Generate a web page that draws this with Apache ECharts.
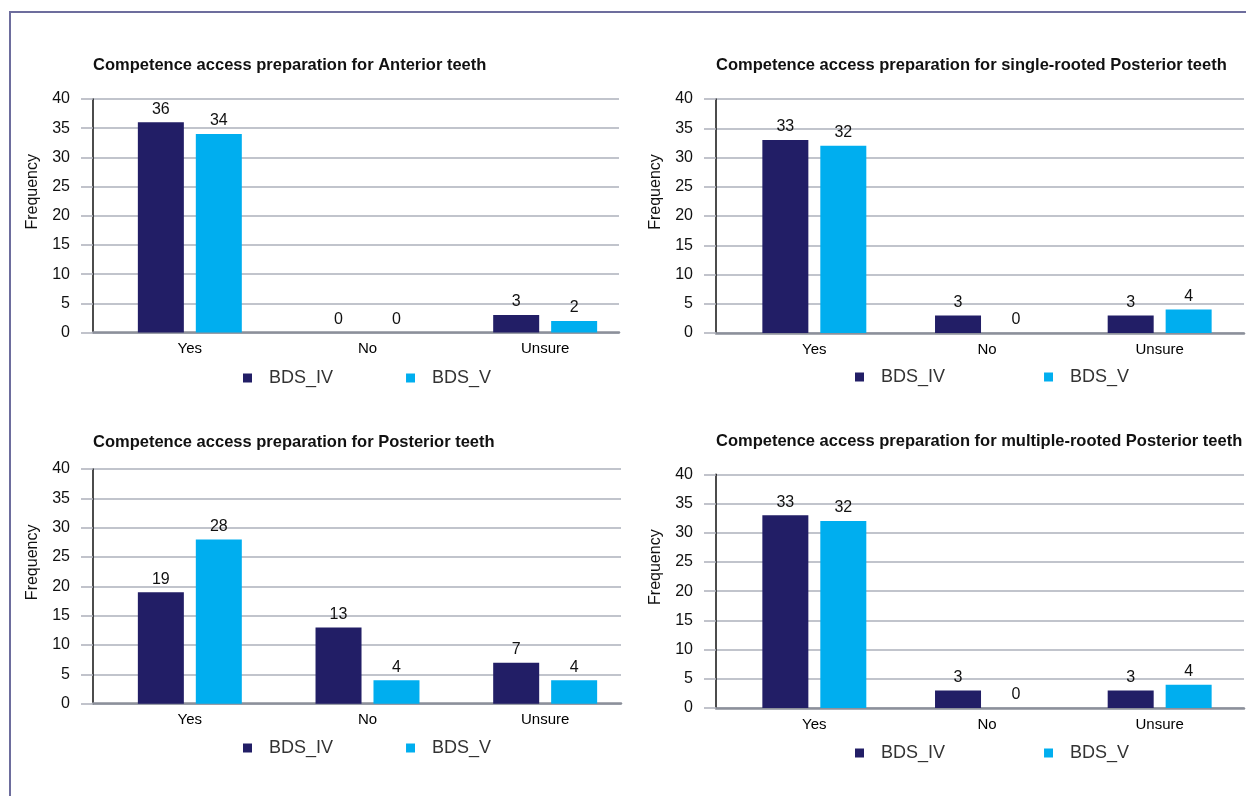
<!DOCTYPE html>
<html>
<head>
<meta charset="utf-8">
<script src="https://cdn.jsdelivr.net/npm/echarts@6/dist/echarts.min.js"></script>
<style>
    html, body { margin: 0; background: #fff; }
    #frame { position: absolute; left: 9px; top: 11px; width: 1246px; height: 796px;
             border-top: 2px solid #6d6d9d; border-left: 2px solid #6d6d9d; }
    #chart { position: absolute; left: 0; top: 0; width: 1246px; height: 796px; }
</style>
</head>
<body>
<div id="frame"></div>
<div id="chart"></div>
<script>
const categories = ['Yes', 'No', 'Unsure'];
const seriesNames = ['BDS_IV', 'BDS_V'];
const chartTitles = [
    'Competence access preparation for Anterior teeth',
    'Competence access preparation for single-rooted Posterior teeth',
    'Competence access preparation for Posterior teeth',
    'Competence access preparation for multiple-rooted Posterior teeth'
];
const anteriorBDS4 = [36, 0, 3];
const anteriorBDS5 = [34, 0, 2];
const singleRootBDS4 = [33, 3, 3];
const singleRootBDS5 = [32, 0, 4];
const posteriorBDS4 = [19, 13, 7];
const posteriorBDS5 = [28, 4, 4];
const multiRootBDS4 = [33, 3, 3];
const multiRootBDS5 = [32, 0, 4];
const yMin = 0, yMax = 40, yStep = 5;

const panelData = [
    [anteriorBDS4, anteriorBDS5],
    [singleRootBDS4, singleRootBDS5],
    [posteriorBDS4, posteriorBDS5],
    [multiRootBDS4, multiRootBDS5]
];

// where each panel sits on the page
const layout = [
    {axisX: 93, right: 619, barLeft: 101, barRight: 634, top: 99, bottom: 332.6, titleTop: 57, legendLeft: 243, legendTop: 369, legendGap: 73},
    {axisX: 716, right: 1244, barLeft: 728, barRight: 1262, top: 99, bottom: 333, titleTop: 57, legendLeft: 855, legendTop: 368, legendGap: 99},
    {axisX: 93, right: 621, barLeft: 101, barRight: 634, top: 469, bottom: 703.7, titleTop: 434, legendLeft: 243, legendTop: 739, legendGap: 73},
    {axisX: 716, right: 1244, barLeft: 728, barRight: 1262, top: 474.3, bottom: 708, titleTop: 433, legendLeft: 855, legendTop: 744, legendGap: 99}
];

const colors = ['#221e66', '#00aeef'];
const font = '"Liberation Sans", Arial, sans-serif';
const gridColor = '#adb0bb';

let option = {
    animation: false,
    backgroundColor: 'transparent',
    title: [], legend: [], grid: [], xAxis: [], yAxis: [], series: []
};

layout.forEach((p, i) => {
    let h = p.bottom - p.top;
    let g = option.grid.length;

    option.title.push({
        text: chartTitles[i], left: p.axisX, top: p.titleTop, padding: 0,
        textStyle: {fontFamily: font, fontSize: 16.5, fontWeight: 'bold', color: '#111'}
    });
    option.legend.push({
        data: seriesNames, left: p.legendLeft, top: p.legendTop, padding: 0,
        icon: 'rect', itemWidth: 9, itemHeight: 9, itemGap: p.legendGap,
        textStyle: {fontFamily: font, fontSize: 18, color: '#333', padding: [0, 0, 0, 12]}
    });

    // grid with the y axis, grid lines and baseline
    option.grid.push({left: p.axisX, top: p.top, width: p.right - p.axisX, height: h});
    // grid that holds the bars
    option.grid.push({left: p.barLeft, top: p.top, width: p.barRight - p.barLeft, height: h});

    option.xAxis.push({
        type: 'category', gridIndex: g, data: categories,
        axisLabel: {show: false}, axisTick: {show: false},
        axisLine: {show: true, lineStyle: {color: '#8c909a', width: 2.5}}
    });
    option.xAxis.push({
        type: 'category', gridIndex: g + 1, data: categories,
        axisLine: {show: false}, axisTick: {show: false}, splitLine: {show: false},
        axisLabel: {fontFamily: font, fontSize: 15, color: '#000', margin: 9}
    });
    option.yAxis.push({
        type: 'value', gridIndex: g, min: yMin, max: yMax, interval: yStep,
        name: 'Frequency', nameLocation: 'middle', nameGap: 52,
        nameTextStyle: {fontFamily: font, fontSize: 16, color: '#111', padding: [0, 0, 0, 48]},
        axisLine: {show: true, lineStyle: {color: '#111', width: 1.5}},
        axisTick: {show: true, length: 12, lineStyle: {color: gridColor, width: 1.5}},
        axisLabel: {fontFamily: font, fontSize: 16, color: '#111', margin: 23},
        splitLine: {show: true, lineStyle: {color: gridColor, width: 1.5}}
    });
    option.yAxis.push({
        type: 'value', gridIndex: g + 1, min: yMin, max: yMax, interval: yStep, show: false
    });

    panelData[i].forEach((vals, s) => {
        option.series.push({
            name: seriesNames[s], type: 'bar', data: vals,
            xAxisIndex: g + 1, yAxisIndex: g + 1,
            barWidth: 46, barGap: '26%',
            itemStyle: {color: colors[s]},
            label: {show: true, position: 'top', distance: 5, fontFamily: font, fontSize: 16, color: '#111'}
        });
    });
});

let chart = echarts.init(document.getElementById('chart'));
chart.setOption(option);
</script>
</body>
</html>
